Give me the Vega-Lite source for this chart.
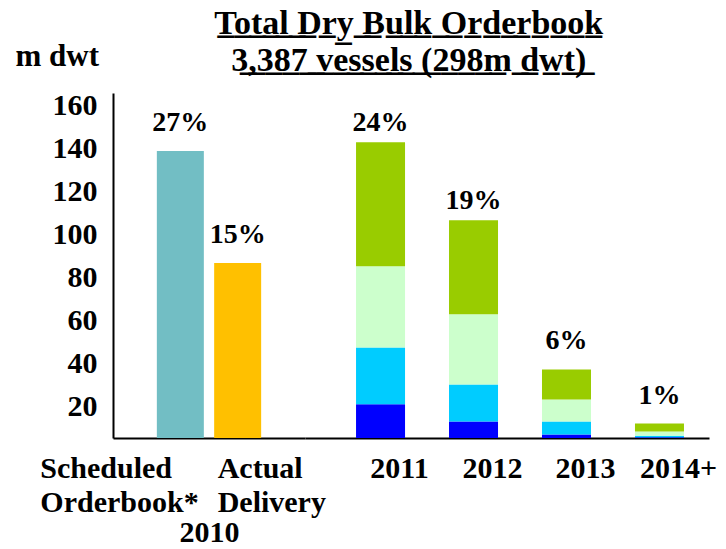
{
  "$schema": "https://vega.github.io/schema/vega-lite/v6.json",
  "padding": {"left": 15, "top": 7, "right": 0, "bottom": 0},
  "background": "white",
  "title": {
    "text": ["T\u0332o\u0332t\u0332a\u0332l\u0332 \u0332D\u0332r\u0332y\u0332 \u0332B\u0332u\u0332l\u0332k\u0332 \u0332O\u0332r\u0332d\u0332e\u0332r\u0332b\u0332o\u0332o\u0332k\u0332", "3\u0332,\u03323\u03328\u03327\u0332 \u0332v\u0332e\u0332s\u0332s\u0332e\u0332l\u0332s\u0332 \u0332(\u03322\u03329\u03328\u0332m\u0332 \u0332d\u0332w\u0332t\u0332)\u0332"],
    "font": "Liberation Serif",
    "fontSize": 34,
    "fontWeight": "bold",
    "lineHeight": 37,
    "anchor": "middle",
    "color": "black",
    "offset": -38,
    "dx": 43
  },
  "datasets": {
    "left": [
      {"category": "Scheduled", "series": "Scheduled Orderbook 2010", "value": 133.1, "pct": "27%"},
      {"category": "Actual", "series": "Actual Delivery 2010", "value": 81.2, "pct": "15%"}
    ],
    "segments": [
      {"year": "2011", "series": "Segment 1", "order": 1, "value": 15.6},
      {"year": "2011", "series": "Segment 2", "order": 2, "value": 26.4},
      {"year": "2011", "series": "Segment 3", "order": 3, "value": 37.7},
      {"year": "2011", "series": "Segment 4", "order": 4, "value": 57.5},
      {"year": "2012", "series": "Segment 1", "order": 1, "value": 7.7},
      {"year": "2012", "series": "Segment 2", "order": 2, "value": 17.1},
      {"year": "2012", "series": "Segment 3", "order": 3, "value": 32.6},
      {"year": "2012", "series": "Segment 4", "order": 4, "value": 43.6},
      {"year": "2013", "series": "Segment 1", "order": 1, "value": 1.6},
      {"year": "2013", "series": "Segment 2", "order": 2, "value": 6.1},
      {"year": "2013", "series": "Segment 3", "order": 3, "value": 10.2},
      {"year": "2013", "series": "Segment 4", "order": 4, "value": 13.9},
      {"year": "2014+", "series": "Segment 1", "order": 1, "value": 0.3},
      {"year": "2014+", "series": "Segment 2", "order": 2, "value": 0.7},
      {"year": "2014+", "series": "Segment 3", "order": 3, "value": 2.0},
      {"year": "2014+", "series": "Segment 4", "order": 4, "value": 3.7}
    ],
    "pcts": [
      {"year": "2011", "pct": "24%", "group": "near"},
      {"year": "2012", "pct": "19%", "group": "near"},
      {"year": "2013", "pct": "6%", "group": "far"},
      {"year": "2014+", "pct": "1%", "group": "far"}
    ]
  },
  "spacing": 0,
  "bounds": "flush",
  "hconcat": [
    {
      "width": 192,
      "height": 345,
      "data": {"name": "left"},
      "encoding": {
        "x": {
          "field": "category",
          "type": "nominal",
          "sort": null,
          "scale": {"domain": ["Scheduled", "Actual"], "paddingInner": 0.18, "paddingOuter": 0.765},
          "axis": {
            "labelExpr": "datum.value == 'Scheduled' ? ['Scheduled', 'Orderbook*'] : ['Actual', 'Delivery']",
            "labelAngle": 0,
            "labelAlign": "left",
            "labelOffset": {"condition": {"test": "datum.value == 'Scheduled'", "value": -140}, "value": -20},
            "labelBaseline": "top",
            "labelFontSize": 30,
            "labelFontWeight": "bold",
            "labelLineHeight": 34,
            "labelPadding": 15,
            "labelColor": "black",
            "labelOverlap": false,
            "ticks": false,
            "domainColor": "black",
            "domainWidth": 2,
            "title": "2010",
            "titleFontSize": 30,
            "titleFontWeight": "bold",
            "titleColor": "black",
            "titleBaseline": "alphabetic",
            "titleY": 103
          }
        },
        "y": {
          "field": "value",
          "type": "quantitative",
          "scale": {"domain": [0, 160]},
          "axis": {
            "values": [20, 40, 60, 80, 100, 120, 140, 160],
            "labelBaseline": "top",
            "labelOffset": -3,
            "labelFontSize": 30,
            "labelFontWeight": "bold",
            "labelColor": "black",
            "labelPadding": 16,
            "ticks": false,
            "grid": false,
            "domainColor": "black",
            "domainWidth": 2,
            "title": "m dwt",
            "titleAngle": 0,
            "titleAlign": "left",
            "titleBaseline": "alphabetic",
            "titleX": -98,
            "titleY": -28,
            "titleFontSize": 31,
            "titleFontWeight": "bold",
            "titleColor": "black"
          }
        }
      },
      "layer": [
        {
          "mark": {"type": "bar"},
          "encoding": {
            "color": {
              "field": "series",
              "type": "nominal",
              "scale": {
                "domain": ["Scheduled Orderbook 2010", "Actual Delivery 2010", "Segment 1", "Segment 2", "Segment 3", "Segment 4"],
                "range": ["#72BEC4", "#FFC000", "#0000FF", "#00CCFF", "#CCFFCC", "#99CC00"]
              },
              "legend": null
            }
          }
        },
        {
          "mark": {"type": "text", "baseline": "alphabetic", "dy": -20, "fontSize": 28, "fontWeight": "bold", "color": "black"},
          "encoding": {"text": {"field": "pct"}}
        }
      ]
    },
    {
      "width": 404,
      "height": 345,
      "encoding": {
        "x": {
          "field": "year",
          "type": "nominal",
          "sort": null,
          "scale": {"domain": ["2011", "2012", "2013", "2014+"], "paddingInner": 0.473, "paddingOuter": 0.409, "align": 0.671},
          "axis": {
            "labelAngle": 0,
            "labelOffset": 19,
            "labelBaseline": "top",
            "labelFontSize": 30,
            "labelFontWeight": "bold",
            "labelPadding": 15,
            "labelColor": "black",
            "labelOverlap": false,
            "ticks": false,
            "domainColor": "black",
            "domainWidth": 2,
            "title": null
          }
        }
      },
      "layer": [
        {
          "data": {"name": "segments"},
          "mark": {"type": "bar"},
          "encoding": {
            "y": {"field": "value", "type": "quantitative", "stack": "zero", "scale": {"domain": [0, 160]}, "axis": null},
            "color": {
              "field": "series",
              "type": "nominal",
              "scale": {
                "domain": ["Scheduled Orderbook 2010", "Actual Delivery 2010", "Segment 1", "Segment 2", "Segment 3", "Segment 4"],
                "range": ["#72BEC4", "#FFC000", "#0000FF", "#00CCFF", "#CCFFCC", "#99CC00"]
              },
              "legend": null
            },
            "order": {"field": "order", "type": "quantitative"}
          }
        },
        {
          "data": {"name": "segments"},
          "transform": [
            {"aggregate": [{"op": "sum", "field": "value", "as": "total"}], "groupby": ["year"]},
            {"lookup": "year", "from": {"data": {"name": "pcts"}, "key": "year", "fields": ["pct", "group"]}},
            {"filter": "datum.group == 'near'"}
          ],
          "mark": {"type": "text", "baseline": "alphabetic", "dy": -11, "fontSize": 28, "fontWeight": "bold", "color": "black"},
          "encoding": {
            "y": {"field": "total", "type": "quantitative", "scale": {"domain": [0, 160]}, "axis": null},
            "text": {"field": "pct"}
          }
        },
        {
          "data": {"name": "segments"},
          "transform": [
            {"aggregate": [{"op": "sum", "field": "value", "as": "total"}], "groupby": ["year"]},
            {"lookup": "year", "from": {"data": {"name": "pcts"}, "key": "year", "fields": ["pct", "group"]}},
            {"filter": "datum.group == 'far'"}
          ],
          "mark": {"type": "text", "baseline": "alphabetic", "dy": -20, "fontSize": 28, "fontWeight": "bold", "color": "black"},
          "encoding": {
            "y": {"field": "total", "type": "quantitative", "scale": {"domain": [0, 160]}, "axis": null},
            "text": {"field": "pct"}
          }
        }
      ]
    }
  ],
  "config": {
    "font": "Liberation Serif",
    "view": {"stroke": null},
    "axis": {"labelFont": "Liberation Serif", "titleFont": "Liberation Serif"},
    "text": {"font": "Liberation Serif"}
  }
}
